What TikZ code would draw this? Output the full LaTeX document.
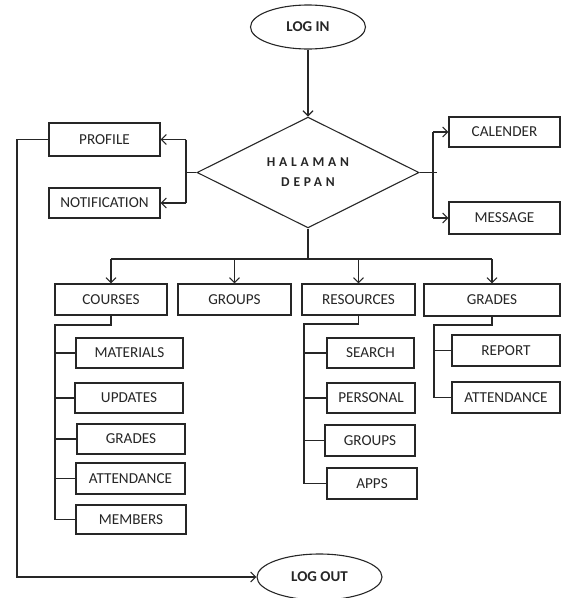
\documentclass[tikz,border=0pt]{standalone}
\usepackage{fontspec}
\setmainfont{Carlito}
\newfontfamily\spacedfont[LetterSpace=28]{Carlito}
\usetikzlibrary{shapes.geometric,arrows.meta}
\begin{document}
\begin{tikzpicture}[x=1pt,y=-1pt,
  every node/.style={font=\fontsize{15.2}{17}\selectfont, text=black!85},
  box/.style={draw=black!85, line width=1.1pt, fill=white, inner sep=0pt},
  oval/.style={draw=black!85, line width=1.1pt, ellipse, inner sep=0pt, font=\bfseries\fontsize{15}{17}\selectfont},
  ln/.style={draw=black!85, line width=1.1pt},
  arr/.style={ln, -{Straight Barb[length=5pt,width=10pt]}}
]
\useasboundingbox (0,0) rectangle (563,598);
% top
\node[oval, minimum width=115pt, minimum height=44pt] (login) at (308,27) {LOG IN};
\node[draw=black!85, line width=1.1pt, diamond, inner sep=0pt, minimum width=222pt, minimum height=109pt,
      font=\spacedfont\bfseries\fontsize{13.5}{20}\selectfont, align=center] (dia) at (308,172.5) {HALAMAN\\DEPAN};
\draw[arr] (login.south) -- (dia.north);
% left side
\node[box, minimum width=111pt, minimum height=33pt] (profile) at (104.5,139.5) {PROFILE};
\node[box, minimum width=111pt, minimum height=30pt] (notif) at (104.5,203) {NOTIFICATION};
\coordinate (lb) at (186,172.5);
\draw[ln] (dia.west) -- (lb);
\draw[ln] (lb |- profile.east) -- (lb |- notif.east);
\draw[arr] (lb |- profile.east) -- (profile.east);
\draw[arr] (lb |- notif.east) -- (notif.east);
% right side
\node[box, minimum width=111pt, minimum height=30pt] (cal) at (504.5,132) {CALENDER};
\node[box, minimum width=111pt, minimum height=32pt] (msg) at (504.5,218) {MESSAGE};
\coordinate (rb) at (433,172.5);
\coordinate (rt) at (437,172.5);
\draw[ln] (dia.east) -- (rt);
\draw[ln] (rb |- cal.west) -- (rb |- msg.west);
\draw[arr] (rb |- cal.west) -- (cal.west);
\draw[arr] (rb |- msg.west) -- (msg.west);
% main branches
\node[box, minimum width=112pt, minimum height=31pt] (courses) at (111,299.5) {COURSES};
\node[box, minimum width=113pt, minimum height=31pt] (groups) at (234.5,299.5) {GROUPS};
\node[box, minimum width=113pt, minimum height=31pt] (res) at (358.5,299.5) {RESOURCES};
\node[box, minimum width=136pt, minimum height=32pt] (grades) at (492,300) {GRADES};
\coordinate (hb) at (308,259);
\draw[ln] (dia.south) -- (hb);
\draw[ln] (courses.north |- hb) -- (grades.north |- hb);
\draw[arr] (courses.north |- hb) -- (courses.north);
\draw[arr] (groups.north |- hb) -- (groups.north);
\draw[arr] (res.north |- hb) -- (res.north);
\draw[arr] (grades.north |- hb) -- (grades.north);
% courses children
\node[box, minimum width=107pt, minimum height=30pt] (mat) at (129.5,353) {MATERIALS};
\node[box, minimum width=108pt, minimum height=30pt] (upd) at (129,398) {UPDATES};
\node[box, minimum width=108pt, minimum height=30pt] (cgr) at (131,439) {GRADES};
\node[box, minimum width=109pt, minimum height=31pt] (catt) at (130.5,478.5) {ATTENDANCE};
\node[box, minimum width=110pt, minimum height=29pt] (mem) at (131,519.5) {MEMBERS};
\coordinate (ct) at (55,325);
\draw[ln] (courses.south) |- (ct) -- (ct |- mem.west) -- (mem.west);
\draw[ln] (ct |- mat.west) -- (mat.west);
\draw[ln] (ct |- upd.west) -- (upd.west);
\draw[ln] (ct |- cgr.west) -- (cgr.west);
\draw[ln] (ct |- catt.west) -- (catt.west);
% resources children
\node[box, minimum width=87pt, minimum height=30pt] (search) at (370.5,353) {SEARCH};
\node[box, minimum width=88pt, minimum height=30pt] (pers) at (371,398) {PERSONAL};
\node[box, minimum width=90pt, minimum height=31pt] (rgr) at (370,440.5) {GROUPS};
\node[box, minimum width=90pt, minimum height=31pt] (apps) at (372,483.5) {APPS};
\coordinate (rt2) at (304,324);
\draw[ln] (res.south) |- (rt2) -- (rt2 |- apps.west) -- (apps.west);
\draw[ln] (rt2 |- search.west) -- (search.west);
\draw[ln] (rt2 |- pers.west) -- (pers.west);
\draw[ln] (rt2 |- rgr.west) -- (rgr.west);
% grades children
\node[box, minimum width=108pt, minimum height=31pt] (rep) at (506,350.5) {REPORT};
\node[box, minimum width=108pt, minimum height=31pt] (gatt) at (506,397.5) {ATTENDANCE};
\coordinate (gt) at (434,325);
\draw[ln] (grades.south) |- (gt) -- (gt |- gatt.west) -- (gatt.west);
\draw[ln] (gt |- rep.west) -- (rep.west);
% log out
\node[oval, minimum width=125pt, minimum height=46pt] (logout) at (319.5,577) {LOG OUT};
\coordinate (lo) at (17,577);
\draw[arr] (profile.west) -| (lo) -- (logout.west);
\end{tikzpicture}
\end{document}
